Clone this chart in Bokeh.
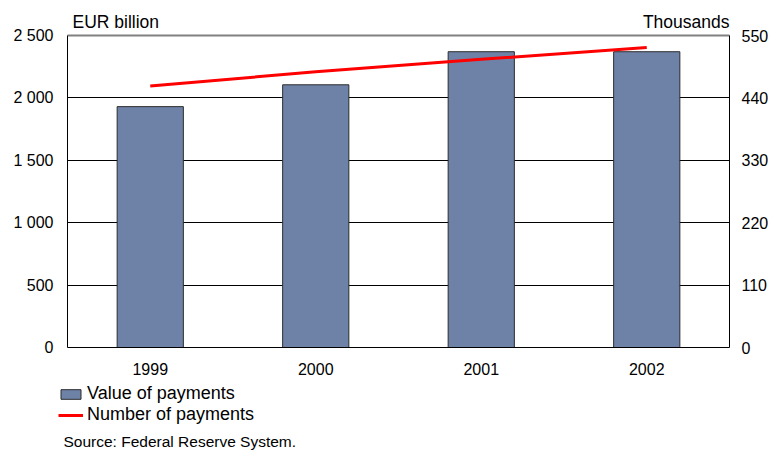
from bokeh.plotting import figure
from bokeh.models import (Range1d, LinearAxis, FixedTicker, Label, Grid,
                          Legend, LegendItem)
from bokeh.embed import file_html
from bokeh.resources import INLINE

years = ["1999", "2000", "2001", "2002"]
value_eur_bn = [1930, 2105, 2370, 2370]
number_thousands = [461, 486, 508, 529]
left_ticks = [0, 500, 1000, 1500, 2000, 2500]
left_tick_labels = ["0", "500", "1 000", "1 500", "2 000", "2 500"]
grid_ticks = [500, 1000, 1500, 2000]
right_ticks = [0, 110, 220, 330, 440, 550]

FONT = "Liberation Sans"
LEFT_MAX = 2500
RIGHT_MAX = 550
N = len(years)
centers = [i + 0.5 for i in range(N)]      # category slots on the x scale

PER_PX = LEFT_MAX / 312.0          # value units per screen pixel (y)
CAT_PX = 662.0 / N                 # pixels per category slot (x)
Y_START = -104 * PER_PX            # room below the axis for legend / source
Y_END = LEFT_MAX + 35 * PER_PX     # room above the axis for unit captions
X_START = -67 / CAT_PX             # room left of the plot for tick labels
X_END = N + 44 / CAT_PX            # room right of the plot for tick labels
R = RIGHT_MAX / LEFT_MAX

p = figure(width=773, height=451, x_range=Range1d(X_START, X_END),
           y_range=Range1d(Y_START, Y_END), output_backend="svg", title=None,
           toolbar_location=None, min_border_left=0, min_border_right=0,
           min_border_top=0, min_border_bottom=0)
p.outline_line_color = None
p.background_fill_color = "white"
p.border_fill_color = "white"

p.extra_y_ranges = {"num": Range1d(Y_START * R, Y_END * R)}

bars = p.vbar(x=centers, top=value_eur_bn, width=0.4, fill_color="#6E82A8",
              line_color="#2B2B2B", line_width=1)
line = p.line(x=centers, y=number_thousands, y_range_name="num",
              line_color="#FF0000", line_width=3)


def style_axis(ax, standoff):
    ax.major_tick_out = 0
    ax.major_tick_in = 0
    ax.minor_tick_out = 0
    ax.minor_tick_in = 0
    ax.axis_line_color = "black"
    ax.axis_line_width = 1
    ax.major_label_text_font = FONT
    ax.major_label_text_font_size = "16px"
    ax.major_label_text_color = "black"
    ax.major_label_standoff = standoff


xax = p.xaxis[0]
style_axis(xax, 15)
xax.fixed_location = 0
xax.ticker = FixedTicker(ticks=centers)
xax.major_label_overrides = dict(zip(centers, years))
xax.bounds = (0, N)

yax = p.yaxis[0]
style_axis(yax, 14)
yax.fixed_location = 0
yax.ticker = FixedTicker(ticks=left_ticks)
yax.major_label_overrides = dict(zip(left_ticks, left_tick_labels))
yax.bounds = (0, LEFT_MAX)

rax = LinearAxis(y_range_name="num", ticker=FixedTicker(ticks=right_ticks))
style_axis(rax, 12)
rax.fixed_location = N
rax.bounds = (0, RIGHT_MAX)
p.add_layout(rax, "right")

p.xgrid.grid_line_color = None
p.ygrid.ticker = FixedTicker(ticks=grid_ticks)
p.ygrid.grid_line_color = "black"
p.ygrid.grid_line_width = 1
p.ygrid.cross_bounds = (0, N)

top_rule = Grid(dimension=1, ticker=FixedTicker(ticks=[LEFT_MAX]),
                grid_line_color="#808080", grid_line_width=2,
                cross_bounds=(0, N))
p.add_layout(top_rule)

p.add_layout(Label(x=0, y=LEFT_MAX + 14 * PER_PX, text="EUR billion",
                   x_offset=5, text_font=FONT, text_font_size="17.5px",
                   text_color="black", text_baseline="alphabetic"))
p.add_layout(Label(x=N, y=LEFT_MAX + 14 * PER_PX, text="Thousands",
                   text_align="right", text_font=FONT,
                   text_font_size="17.5px", text_color="black",
                   text_baseline="alphabetic"))
p.add_layout(Label(x=0, y=-94 * PER_PX, text="Source: Federal Reserve System.",
                   x_offset=-4, text_font=FONT, text_font_size="15.5px",
                   text_color="black", text_baseline="alphabetic"))

legend = Legend(items=[LegendItem(label="Value of payments", renderers=[bars]),
                       LegendItem(label="Number of payments", renderers=[line])],
                location=(58, 26), padding=0, margin=0, spacing=0,
                border_line_color=None, background_fill_alpha=0,
                glyph_width=25, glyph_height=12, label_height=20,
                label_standoff=4, label_text_font=FONT,
                label_text_font_size="18px", label_text_color="black")
p.add_layout(legend)

open("out.html", "w").write(file_html(p, INLINE))
